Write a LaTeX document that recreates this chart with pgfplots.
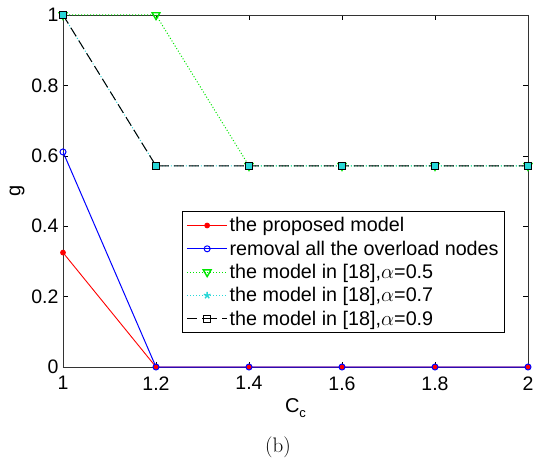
\documentclass[border=0pt]{standalone}
\usepackage{fontspec}
\usepackage{pgfplots}
\pgfplotsset{compat=1.18}
\newfontfamily\arial{Liberation Sans}
\definecolor{mgreen}{RGB}{0,230,0}
\definecolor{mcyan}{RGB}{40,215,215}
\begin{document}
\begin{tikzpicture}[x=1pt,y=1pt]
\begin{axis}[
  at={(0,0)}, anchor=south west,
  scale only axis, width=465pt, height=352pt,
  xmin=1, xmax=2, ymin=0, ymax=1,
  xtick={1,1.2,1.4,1.6,1.8,2},
  ytick={0,0.2,0.4,0.6,0.8,1},
  xticklabels={1,1.2,1.4,1.6,1.8,2},
  yticklabels={0,0.2,0.4,0.6,0.8,1},
  /pgf/number format/assume math mode=true,
  tick align=inside, major tick length=5pt,
  tick style={black, line width=0.5pt},
  axis line style={black!80, line width=0.7pt},
  ticklabel style={font=\fontsize{19.5}{21}\arial},
  xticklabel style={yshift=-6pt},
  yticklabel style={xshift=-1pt},
  xlabel={C\raisebox{-0.45ex}{\fontsize{13}{14}\selectfont c}},
  ylabel={g},
  label style={font=\fontsize{20}{22}\arial},
  xlabel style={at={(axis description cs:0.5,0)}, anchor=center, yshift=-41pt},
  ylabel style={at={(axis description cs:0,0.5)}, anchor=center, yshift=46pt},
  legend cell align=left,
  legend style={at={(rel axis cs:0.9505,0.0966)}, anchor=south east,
    font=\fontsize{19.75}{22}\arial, draw=black, line width=0.7pt,
    row sep=3.5pt, inner sep=4pt},
  legend image code/.code={\draw[#1] (0pt,0pt) -- (20pt,0pt) plot coordinates {(20pt,0pt)} -- (40pt,0pt);},
]
\addplot[red, line width=0.9pt, mark=*, mark size=2.4pt, mark options={solid,fill=red}]
  coordinates {(1,0.325) (1.2,0) (1.4,0) (1.6,0) (1.8,0) (2,0)};
\addlegendentry{the proposed model}
\addplot[blue, line width=1pt, mark=o, mark size=3pt, mark options={solid}]
  coordinates {(1,0.611) (1.2,0) (1.4,0) (1.6,0) (1.8,0) (2,0)};
\addlegendentry{removal all the overload nodes}
\addplot[mgreen, line width=1pt, dotted, mark=triangle, mark size=4.5pt, mark options={solid, rotate=180, line width=1.4pt}]
  coordinates {(1,1) (1.2,1) (1.4,0.5714) (1.6,0.5714) (1.8,0.5714) (2,0.5714)};
\addlegendentry{the model in [18],$\alpha$=0.5}
\addplot[mcyan, line width=1pt, dotted, mark=star, mark size=3.5pt, mark options={solid, line width=1.4pt}]
  coordinates {(1,1) (1.2,0.5714) (1.4,0.5714) (1.6,0.5714) (1.8,0.5714) (2,0.5714)};
\addlegendentry{the model in [18],$\alpha$=0.7}
\addplot[forget plot, only marks, mark=square*, mark size=3.4pt, mark options={draw=none, fill=mcyan}]
  coordinates {(1,1) (1.2,0.5714) (1.4,0.5714) (1.6,0.5714) (1.8,0.5714) (2,0.5714)};
\addplot[black, line width=1pt, dash pattern=on 10pt off 5pt, mark=square, mark size=3.6pt, mark options={solid, line width=1pt}]
  coordinates {(1,1) (1.2,0.5714) (1.4,0.5714) (1.6,0.5714) (1.8,0.5714) (2,0.5714)};
\addlegendentry{the model in [18],$\alpha$=0.9}
\end{axis}
\node[font=\fontsize{21}{23}\selectfont] at (215pt,-80pt) {(b)};
\pgfresetboundingbox
\useasboundingbox (-63pt,-96pt) rectangle (471pt,367pt);
\end{tikzpicture}
\end{document}
